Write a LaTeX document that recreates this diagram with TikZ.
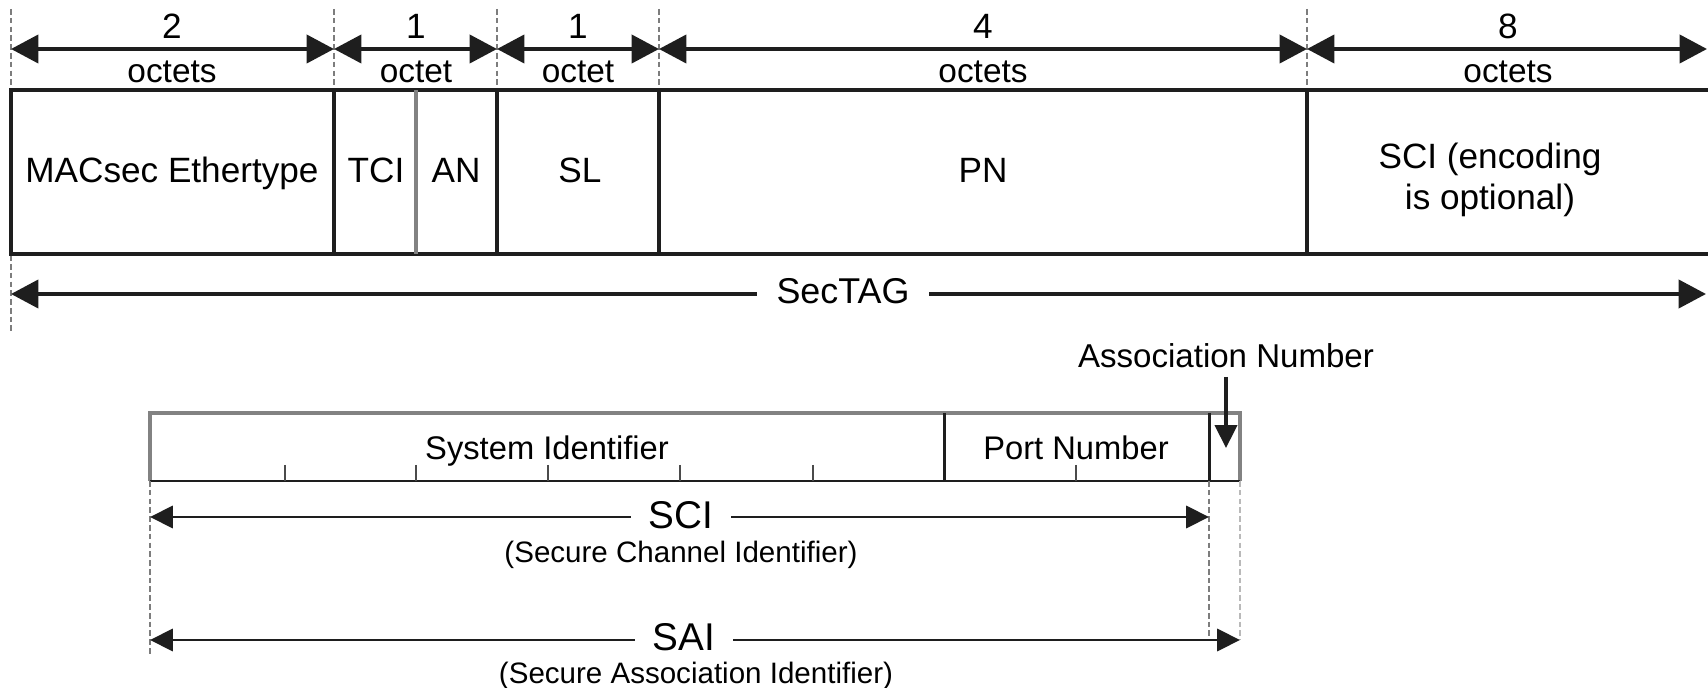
\documentclass[tikz,border=0pt]{standalone}
\usepackage{fontspec}
\setmainfont{Liberation Sans}
\usetikzlibrary{arrows.meta}
\definecolor{ink}{RGB}{30,30,30}
\definecolor{midgray}{RGB}{130,130,130}
\definecolor{guide}{RGB}{125,125,125}
\definecolor{lguide}{RGB}{185,185,185}

\begin{document}
\begin{tikzpicture}[x=0.01cm,y=-0.01cm,
  boxline/.style={draw=ink, line width=1.1pt},
  thinbox/.style={draw=ink, line width=0.85pt},
  softline/.style={draw=midgray, line width=1.0pt},
  guideline/.style={draw=guide, line width=0.5pt, dash pattern=on 1.6pt off 0.9pt},
  lguideline/.style={draw=lguide, line width=0.55pt, dash pattern=on 1.6pt off 0.9pt},
  dimtop/.style={draw=ink, line width=1.1pt,
    {Triangle[length=7.8pt,width=8pt]}-{Triangle[length=7.8pt,width=8pt]}},
  dimlow/.style={draw=ink, line width=0.85pt,
    {Triangle[length=6.5pt,width=6.3pt]}-{Triangle[length=6.5pt,width=6.3pt]}},
  pointer/.style={draw=ink, line width=0.9pt, -{Triangle[length=6.5pt,width=6.3pt]}},
  numlbl/.style={font=\fontsize{10}{12}\selectfont, inner sep=0pt, anchor=base},
  unitlbl/.style={font=\fontsize{9.5}{11}\selectfont, inner sep=0pt, anchor=base},
  field/.style={font=\fontsize{10}{12}\selectfont, inner sep=0pt, anchor=base},
  subfield/.style={font=\fontsize{9.3}{11}\selectfont, inner sep=0pt, anchor=base},
  biglbl/.style={font=\fontsize{11}{13}\selectfont, fill=white, inner ysep=1pt, inner xsep=5pt, anchor=base},
  smalllbl/.style={font=\fontsize{8.4}{10}\selectfont, inner sep=0pt, anchor=base},
]
\useasboundingbox (0,0) rectangle (1708,688);

% ---------- SecTAG layout ----------
% field boundaries along the top row
\foreach \n/\x in {0/11,1/334,2/497,3/659,4/1307}{
  \coordinate (gt\n) at (\x,9);
  \coordinate (gb\n) at (\x,90);
  \coordinate (d\n) at (\x,49);
}
\coordinate (d5) at (1707,49);
\coordinate (gl) at (11,333);

% dashed guide lines
\draw[guideline] (gt0) -- (gl);
\foreach \n in {1,2,3,4}{ \draw[guideline] (gt\n) -- (gb\n); }

% field box
\draw[boxline] (1708,90) -- (11,90) -- (11,254) -- (1708,254);
\foreach \x in {334,497,659,1307}{ \draw[boxline] (\x,90) -- (\x,254); }
\draw[softline] (416,90) -- (416,254);

% size arrows
\foreach \a/\b in {0/1,1/2,2/3,3/4,4/5}{ \draw[dimtop] (d\a) -- (d\b); }

% sizes
\node[numlbl]  (n0) at (172,39) {2};
\node[unitlbl] (u0) at (172,83) {octets};
\node[numlbl]  (n1) at (416,39) {1};
\node[unitlbl] (u1) at (416,83) {octet};
\node[numlbl]  (n2) at (578,39) {1};
\node[unitlbl] (u2) at (578,83) {octet};
\node[numlbl]  (n3) at (983,39) {4};
\node[unitlbl] (u3) at (983,83) {octets};
\node[numlbl]  (n4) at (1508,39) {8};
\node[unitlbl] (u4) at (1508,83) {octets};

% field names
\node[field] (eth) at (172,183) {MACsec Ethertype};
\node[field] (tci) at (376,183) {TCI};
\node[field] (an)  at (456,183) {AN};
\node[field] (sl)  at (580,183) {SL};
\node[field] (pn)  at (983,183) {PN};
\node[font=\fontsize{10}{11.8}\selectfont, inner sep=0pt, align=center] (sci) at (1490,180) {SCI (encoding\\ is optional)};

% SecTAG extent
\coordinate (sl0) at (11,294);
\coordinate (sl1) at (1706,294);
\draw[dimtop] (sl0) -- (sl1);
\node[font=\fontsize{10.2}{12}\selectfont, fill=white, inner ysep=1pt, inner xsep=5.5pt, anchor=base] (sectag) at (843,304) {SecTAG};

% ---------- SCI / SAI breakdown ----------
\draw[softline] (150,481) -- (150,413) -- (1240,413) -- (1240,481);
\draw[thinbox] (150,481) -- (1240,481);
\draw[thinbox] (944,413) -- (944,481);
\draw[thinbox] (1209,413) -- (1209,481);
\foreach \x in {285,416,548,680,813,1076}{ \draw[draw=ink!80, line width=0.8pt] (\x,465) -- (\x,481); }

\node[subfield] (sysid) at (547,459) {System Identifier};
\node[subfield] (port)  at (1076,459) {Port Number};
\node[font=\fontsize{9.4}{11}\selectfont, inner sep=0pt, anchor=base] (assoc) at (1226,367) {Association Number};
\coordinate (anbase) at (1226,377);
\coordinate (antip) at (1226,448);
\draw[pointer] (anbase) -- (antip);

% guides below the breakdown box
\coordinate (ga) at (150,481);  \coordinate (gae) at (150,655);
\coordinate (gb) at (1209,481); \coordinate (gbe) at (1209,640);
\coordinate (gc) at (1240,481); \coordinate (gce) at (1240,640);
\draw[guideline] (ga) -- (gae);
\draw[guideline] (gb) -- (gbe);
\draw[lguideline] (gc) -- (gce);

% SCI extent
\coordinate (c0) at (150,517);
\coordinate (c1) at (1209,517);
\draw[dimlow] (c0) -- (c1);
\node[biglbl] (scil) at (681,528) {SCI};
\node[smalllbl] (scid) at (681,562) {(Secure Channel Identifier)};

% SAI extent
\coordinate (s0) at (150,640);
\coordinate (s1) at (1240,640);
\draw[dimlow] (s0) -- (s1);
\node[biglbl] (sail) at (684,650) {SAI};
\node[smalllbl] (said) at (696,683) {(Secure Association Identifier)};
\end{tikzpicture}
\end{document}
